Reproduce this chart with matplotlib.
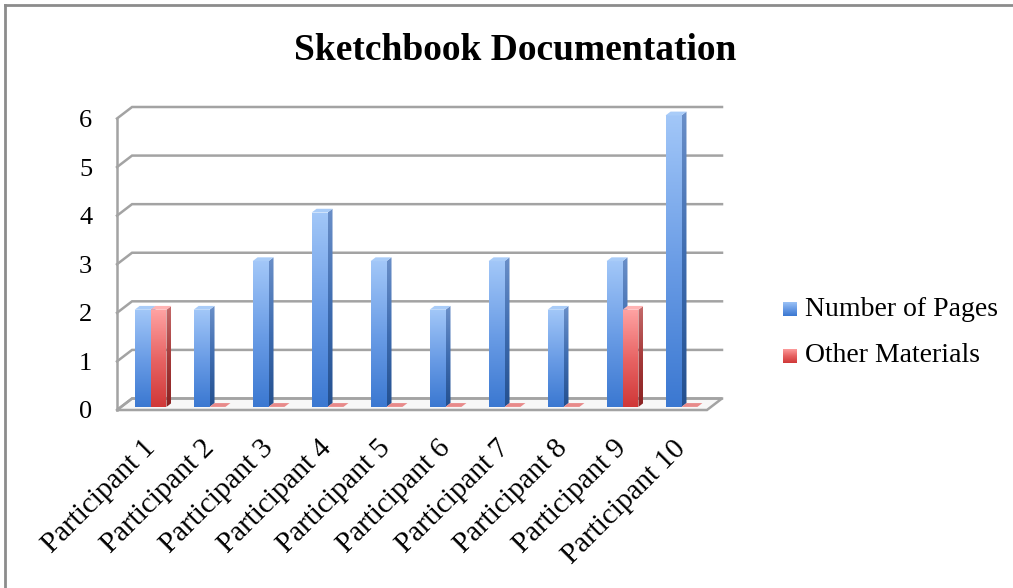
import numpy as np
import matplotlib
matplotlib.use("Agg")
import matplotlib.pyplot as plt
from matplotlib.patches import Polygon
from matplotlib.colors import LinearSegmentedColormap
from matplotlib.lines import Line2D

# ---- data ----
categories = ["Participant 1", "Participant 2", "Participant 3", "Participant 4",
              "Participant 5", "Participant 6", "Participant 7", "Participant 8",
              "Participant 9", "Participant 10"]
pages = [2, 2, 3, 4, 3, 2, 3, 2, 3, 6]
other = [2, 0, 0, 0, 0, 0, 0, 0, 2, 0]
y_ticks = [0, 1, 2, 3, 4, 5, 6]
series_names = ["Number of Pages", "Other Materials"]

# ---- styling ----
SERIF = "Liberation Serif"
GRID = "#a3a3a3"
DX, DY = 0.255, 0.237      # depth direction of the pseudo-3D box (data units)
BAR_W = 0.27
D0, D1 = 0.27, 0.60        # front/back depth of the columns (fraction of box depth)

blue_front = LinearSegmentedColormap.from_list("bf", ["#3b78d1", "#6b9de6", "#a2c7f8"])
blue_side = LinearSegmentedColormap.from_list("bs", ["#24508f", "#3e6cb0", "#6a8fc8"])
red_front = LinearSegmentedColormap.from_list("rf", ["#d03838", "#e86565", "#ffa3a3"])
red_side = LinearSegmentedColormap.from_list("rs", ["#8a2222", "#a63a3a", "#c46a6a"])
blue_top = "#a9ccf8"
red_top = "#ffb3b3"

W, H = 1013, 588
fig = plt.figure(figsize=(W / 100, H / 100), dpi=100)
fig.patch.set_facecolor("white")

ax = fig.add_axes([117 / W, 1 - 410 / H, (722 - 117) / W, (410 - 107) / H])
XMIN, XMAX = -0.5, len(categories) - 0.5
ax.set_xlim(XMIN, XMAX + DX)
ax.set_ylim(0, max(y_ticks) + DY)
ax.axis("off")

zc = [2]


def nz():
    zc[0] += 1
    return zc[0]


def proj(x, y, d):
    return (x + d * DX, y + d * DY)


# floor
floor = Polygon([proj(XMIN, 0, 0), proj(XMAX, 0, 0), proj(XMAX, 0, 1), proj(XMIN, 0, 1)],
                closed=True, facecolor="#f7f7f7", edgecolor=GRID, lw=1.8,
                clip_on=False, zorder=1, joinstyle="miter")
ax.add_patch(floor)

# gridlines on side wall and back wall
for v in y_ticks:
    xs = [XMIN, XMIN + DX, XMAX + DX]
    ys = [v, v + DY, v + DY]
    ax.plot(xs, ys, color=GRID, lw=1.8, clip_on=False, zorder=1.5,
            solid_joinstyle="miter")
ax.plot([XMIN, XMIN], [0, max(y_ticks)], color=GRID, lw=1.8, clip_on=False, zorder=1.5)


def shade(poly_pts, cmap, z):
    poly = Polygon(poly_pts, closed=True, facecolor="none", edgecolor="none",
                   clip_on=False)
    ax.add_patch(poly)
    xs = [p[0] for p in poly_pts]
    ys = [p[1] for p in poly_pts]
    grad = np.linspace(0, 1, 128).reshape(-1, 1)
    im = ax.imshow(grad, cmap=cmap, origin="lower", aspect="auto",
                   extent=[min(xs), max(xs), min(ys), max(ys)],
                   interpolation="bilinear", zorder=z, clip_on=True)
    im.set_clip_path(poly)


def column(x0, h, cmap_f, cmap_s, top_col):
    x1 = x0 + BAR_W
    z = nz()
    if h > 0:
        front = [proj(x0, 0, D0), proj(x1, 0, D0), proj(x1, h, D0), proj(x0, h, D0)]
        side = [proj(x1, 0, D0), proj(x1, 0, D1), proj(x1, h, D1), proj(x1, h, D0)]
        shade(side, cmap_s, z)
        shade(front, cmap_f, z + 0.1)
    top = [proj(x0, h, D0), proj(x1, h, D0), proj(x1, h, D1), proj(x0, h, D1)]
    ax.add_patch(Polygon(top, closed=True, facecolor=top_col, edgecolor="none",
                         clip_on=False, zorder=z + 0.2))


for i in range(len(categories)):
    column(i - BAR_W, pages[i], blue_front, blue_side, blue_top)
    column(i, other[i], red_front, red_side, red_top if other[i] > 0 else "#e88a8a")

ax.set_xlim(XMIN, XMAX + DX)
ax.set_ylim(0, max(y_ticks) + DY)

# value axis labels
for v in y_ticks:
    ax.text(XMIN - 0.42, v - 0.05, str(v), ha="right", va="center",
            fontsize=19, family=SERIF, color="black")

# category labels
for i, lab in enumerate(categories):
    ax.text(i - 0.08, -0.52, lab, ha="right", va="top", rotation=45,
            rotation_mode="anchor", fontsize=21, family=SERIF, color="black")

# title
fig.text(515 / W, 1 - 50 / H, "Sketchbook Documentation", ha="center", va="center",
         fontsize=27, fontweight="bold", family=SERIF)

# legend
swatch_maps = [blue_front, red_front]
for k, (name, cm) in enumerate(zip(series_names, swatch_maps)):
    yc = 309 + 47 * k
    sax = fig.add_axes([783 / W, 1 - (yc + 7.5) / H, 14 / W, 15 / H])
    sax.imshow(np.linspace(0, 1, 64).reshape(-1, 1), cmap=cm, origin="lower",
               aspect="auto", interpolation="bilinear")
    sax.axis("off")
    fig.text(805 / W, 1 - yc / H, name, ha="left", va="center",
             fontsize=20, family=SERIF)

# chart frame
fig.add_artist(Line2D([5 / W, 5 / W], [0, 1 - 5 / H], color="#8c8c8c", lw=2,
                      transform=fig.transFigure))
fig.add_artist(Line2D([5 / W, 1], [1 - 5 / H, 1 - 5 / H], color="#8c8c8c", lw=2,
                      transform=fig.transFigure))

fig.savefig("out.png", dpi=100, facecolor="white")
